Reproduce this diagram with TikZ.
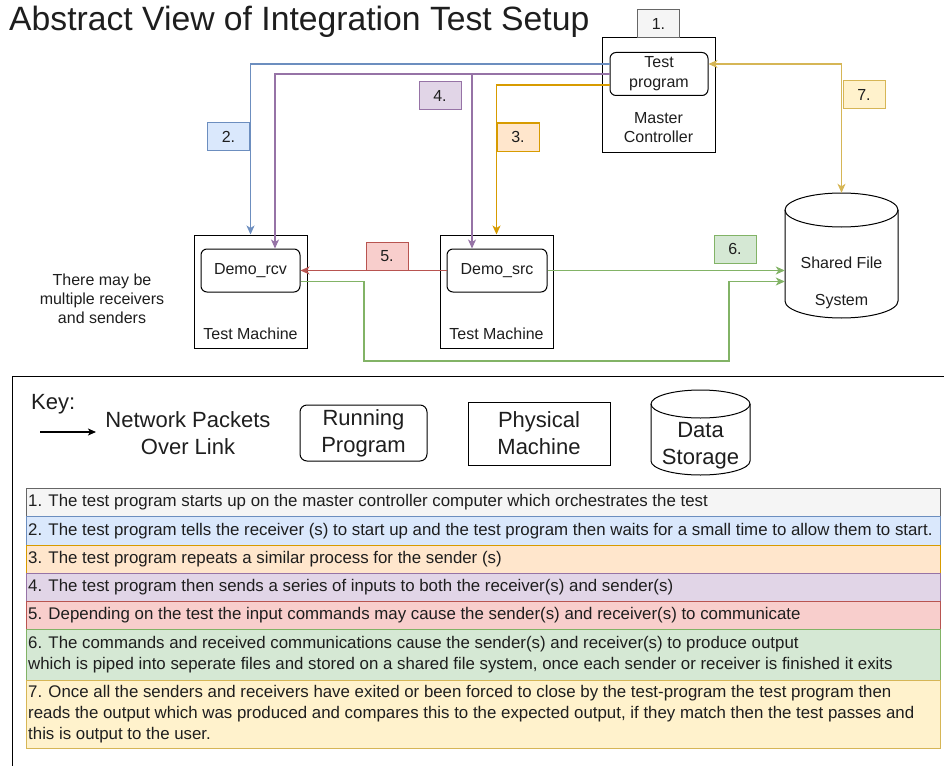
\documentclass[tikz,border=0pt]{standalone}
\usepackage{fontspec}
\setmainfont{Liberation Sans}
\usetikzlibrary{arrows.meta,calc}
\definecolor{grayF}{HTML}{F5F5F5}\definecolor{grayS}{HTML}{666666}
\definecolor{blueF}{HTML}{DAE8FC}\definecolor{blueS}{HTML}{6C8EBF}
\definecolor{orangeF}{HTML}{FFE6CC}\definecolor{orangeS}{HTML}{D79B00}
\definecolor{purpleF}{HTML}{E1D5E7}\definecolor{purpleS}{HTML}{9673A6}
\definecolor{redF}{HTML}{F8CECC}\definecolor{redS}{HTML}{B85450}
\definecolor{greenF}{HTML}{D5E8D4}\definecolor{greenS}{HTML}{82B366}
\definecolor{yellowF}{HTML}{FFF2CC}\definecolor{yellowS}{HTML}{D6B656}
\definecolor{txt}{HTML}{1E1E1E}
\newcommand\fsz[2]{\fontsize{#1}{#2}\selectfont}
\tikzset{
  every node/.style={text=txt},
  machbox/.style={draw=black, line width=1pt, fill=white, inner sep=0pt, minimum width=113pt, minimum height=113pt},
  progbox/.style={draw=black, line width=1pt, fill=white, rounded corners=6pt, inner sep=0pt, align=center, font=\fsz{16}{20}},
  numlab/.style={draw=#1S, fill=#1F, line width=1pt, inner sep=0pt, minimum width=42pt, minimum height=28pt, font=\fsz{16}{19}},
  conn/.style={draw=#1S, line width=1.15pt, -{Stealth[length=9pt,width=8pt,inset=2.5pt]}},
  rowbox/.style={draw=#1S, fill=#1F, line width=1pt, anchor=north west, minimum width=914pt, inner sep=0pt},
  rowtxt/.style={anchor=west, align=left, inner sep=0pt, font=\fsz{16.85}{21}},
  keytxt/.style={align=center, inner sep=0pt, font=\fsz{22}{27}},
}
\begin{document}
\begin{tikzpicture}[x=1pt,y=-1pt]
\useasboundingbox (0,0) rectangle (944,765);
% title
\node[anchor=base west, inner sep=0pt, font=\fsz{33.7}{38}] (title) at (9,31) {Abstract View of Integration Test Setup};
% master controller
\node[machbox, minimum height=114pt] (mc) at (658.5,95) {};
\node[inner sep=0pt, align=center, font=\fsz{16}{19}] (mctxt) at (658.5,127.5) {Master\\Controller};
\node[progbox, minimum width=98pt, minimum height=43pt] (tp) at (659,74) {Test\\program};
\node[numlab=gray] (l1) at (658.5,24) {1.};
% test machines
\node[machbox] (rcvm) at (250.5,291.5) {};
\node[machbox] (srcm) at (496.5,291.5) {};
\node[progbox, minimum width=99pt, minimum height=43pt] (rcv) at (250.5,270.5) {Demo\_rcv};
\node[progbox, minimum width=100pt, minimum height=43pt] (src) at (497,270.5) {Demo\_src};
\node[inner sep=0pt, font=\fsz{16}{19}] (rcvt) at (250.5,334) {Test Machine};
\node[inner sep=0pt, font=\fsz{16}{19}] (srct) at (496.5,334) {Test Machine};
% shared file system (cylinder)
\node[minimum width=113pt, minimum height=125pt, inner sep=0pt] (fs) at (841.5,255.5) {};
\draw[line width=1pt, fill=white] (785,210) -- (785,301) arc[start angle=180,end angle=360,x radius=56.5pt,y radius=17pt] -- (898,210) arc[start angle=0,end angle=180,x radius=56.5pt,y radius=17pt] -- cycle;
\draw[line width=1pt] (785,210) arc[start angle=180,end angle=360,x radius=56.5pt,y radius=17pt];
\node[inner sep=0pt, font=\fsz{16}{19}] (fst1) at (841.5,263) {Shared File};
\node[inner sep=0pt, font=\fsz{16}{19}] (fst2) at (841.5,302) {System};
% note
\node[inner sep=0pt, align=center, font=\fsz{16}{19}] (note) at (102,299) {There may be\\multiple receivers\\and senders};
% connectors
\coordinate (bS) at ($(tp.west)+(0,-10)$);
\coordinate (pS) at ($(tp.west)+(0,0)$);
\coordinate (oS) at ($(tp.west)+(0,11)$);
\coordinate (yS) at ($(tp.east)+(0,-10)$);
\draw[conn=blue] (bS) -| (rcvm.north);
\draw[conn=purple] (pS) -| ($(rcv.north)+(24.5,0)$);
\draw[conn=purple] (pS) -| ($(src.north)+(-25,0)$);
\draw[conn=orange] (oS) -| (srcm.north);
\draw[conn=red] (src.west) -- (rcv.east);
\draw[conn=green] (src.east) -- (fs.west |- src.east);
\coordinate (g0) at ($(rcv.east)+(0,11)$);
\coordinate (g1) at (364,361);
\coordinate (g2) at (729,361);
\draw[conn=green] (g0) -| (g1) -- (g2) |- (fs.west |- g0);
\draw[conn=yellow, {Stealth[length=9pt,width=8pt,inset=2.5pt]}-{Stealth[length=9pt,width=8pt,inset=2.5pt]}] (yS) -| (fs.north);
% number labels
\node[numlab=blue] (l2) at (228.5,136.5) {2.};
\node[numlab=purple] (l4) at (440,95.5) {4.};
\node[numlab=orange] (l3) at (518,137) {3.};
\node[numlab=red] (l5) at (387,256) {5.};
\node[numlab=green] (l6) at (735,249) {6.};
\node[numlab=yellow] (l7) at (864,95) {7.};
% key frame
\draw[line width=1pt] (12,376) rectangle (960,780);
\node[anchor=west, inner sep=0pt, font=\fsz{22}{27}] (key) at (31,404) {Key:};
\coordinate (ka) at (40,432);
\coordinate (kb) at (96,432);
\draw[line width=1.2pt, -{Stealth[length=8pt,width=7pt,inset=2pt]}] (ka) -- (kb);
\node[keytxt] (knet) at (188,433) {Network Packets\\Over Link};
\node[draw=black, line width=1pt, rounded corners=7pt, minimum width=127pt, minimum height=56pt, keytxt] (krun) at (363.5,433) {Running\\Program};
\node[draw=black, line width=1pt, minimum width=142pt, minimum height=63pt, keytxt] (kphy) at (539,433.5) {Physical\\Machine};
\draw[line width=1pt, fill=white] (651,404) -- (651,461) arc[start angle=180,end angle=360,x radius=49.5pt,y radius=14pt] -- (750,404) arc[start angle=0,end angle=180,x radius=49.5pt,y radius=14pt] -- cycle;
\draw[line width=1pt] (651,404) arc[start angle=180,end angle=360,x radius=49.5pt,y radius=14pt];
\node[keytxt] (kdat) at (700.5,446) {Data\\Storage};
% rows
\node[rowbox=gray, minimum height=28pt] (r1) at (26,488) {};
\node[rowbox=blue, minimum height=29pt] (r2) at (26,516) {};
\node[rowbox=orange, minimum height=28pt] (r3) at (26,545) {};
\node[rowbox=purple, minimum height=28pt] (r4) at (26,573) {};
\node[rowbox=red, minimum height=28pt] (r5) at (26,601) {};
\node[rowbox=green, minimum height=51pt] (r6) at (26,629) {};
\node[rowbox=yellow, minimum height=68pt] (r7) at (26,680) {};
\node[rowtxt] (t1) at ($(r1.west)+(2,0)$) {1. The test program starts up on the master controller computer which orchestrates the test};
\node[rowtxt] (t2) at ($(r2.west)+(2,0)$) {2. The test program tells the receiver (s) to start up and the test program then waits for a small time to allow them to start.};
\node[rowtxt] (t3) at ($(r3.west)+(2,0)$) {3. The test program repeats a similar process for the sender (s)};
\node[rowtxt] (t4) at ($(r4.west)+(2,0)$) {4. The test program then sends a series of inputs to both the receiver(s) and sender(s)};
\node[rowtxt] (t5) at ($(r5.west)+(2,0)$) {5. Depending on the test the input commands may cause the sender(s) and receiver(s) to communicate};
\node[rowtxt] (t6) at ($(r6.west)+(2,0)$) {6. The commands and received communications cause the sender(s) and receiver(s) to produce output\\which is piped into seperate files and stored on a shared file system, once each sender or receiver is finished it exits};
\node[rowtxt] (t7) at ($(r7.west)+(2,0)$) {7. Once all the senders and receivers have exited or been forced to close by the test-program the test program then\\reads the output which was produced and compares this to the expected output, if they match then the test passes and\\this is output to the user.};
\end{tikzpicture}
\end{document}
